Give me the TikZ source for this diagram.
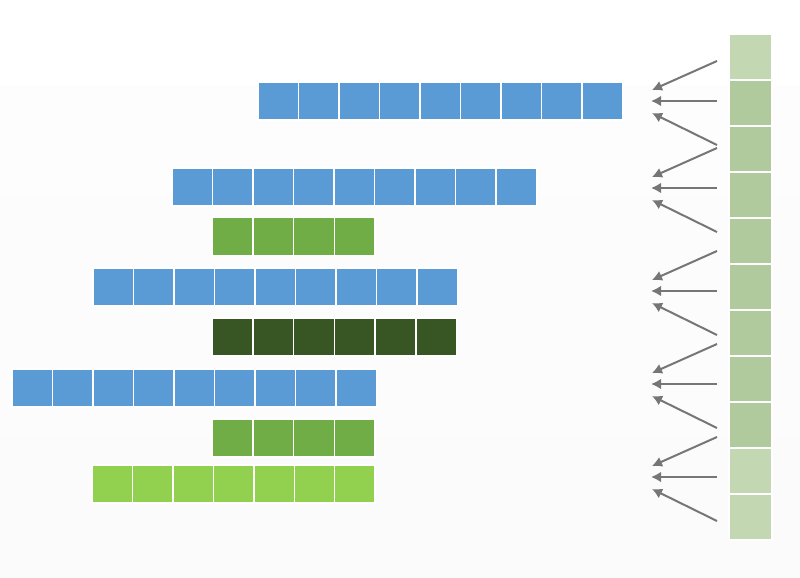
\documentclass[tikz,border=0pt]{standalone}
\usepackage{tikz}
\usetikzlibrary{arrows.meta}

\definecolor{cellblue}{HTML}{5B9BD5}
\definecolor{cellgreen}{HTML}{70AD47}
\definecolor{celldark}{HTML}{375623}
\definecolor{celllime}{HTML}{92D050}
\definecolor{colpale}{HTML}{C4D7B3}
\definecolor{colmid}{HTML}{B0CA9D}
\definecolor{arrowgray}{HTML}{767676}

\tikzset{
	cell/.style={rectangle, draw=white, line width=1.1pt, minimum width=30.4pt, minimum height=28.5pt, inner sep=0pt},
	colcell/.style={rectangle, draw=white, line width=1.1pt, minimum width=32.3pt, minimum height=34.5pt, inner sep=0pt},
	feed/.style={draw=arrowgray, line width=1.5pt, -{Latex[length=7.5pt,width=8pt]}}
}

\begin{document}
\begin{tikzpicture}[x=0.75pt, y=-0.75pt]
	% Background
	\useasboundingbox (0,0) rectangle (800,578);
	\fill[white] (0,0) rectangle (800,85);
	\shade[top color=black!0.8, bottom color=black!1.6] (0,85) rectangle (800,578);

	% Rows of cells
	%Blue
	\foreach \i in {1,...,9} \node[cell, fill=cellblue] (ra\i) at (258+\i*40.5-20.25,101) {};
	\foreach \i in {1,...,9} \node[cell, fill=cellblue] (rb\i) at (172+\i*40.5-20.25,187) {};
	%Green
	\foreach \i in {1,...,4} \node[cell, fill=cellgreen] (rc\i) at (212+\i*40.8-20.4,236.5) {};
	\foreach \i in {1,...,9} \node[cell, fill=cellblue] (rd\i) at (93+\i*40.5-20.25,287) {};
	%Dark green
	\foreach \i in {1,...,6} \node[cell, fill=celldark] (re\i) at (212+\i*40.8-20.4,337) {};
	\foreach \i in {1,...,9} \node[cell, fill=cellblue] (rf\i) at (12+\i*40.5-20.25,388) {};
	\foreach \i in {1,...,4} \node[cell, fill=cellgreen] (rg\i) at (212+\i*40.8-20.4,438) {};
	%Lime
	\foreach \i in {1,...,7} \node[cell, fill=celllime] (rh\i) at (92+\i*40.45-20.2,484) {};

	% Column on the right
	\foreach \c [count=\i] in {colpale,colmid,colmid,colmid,colmid,colmid,colmid,colmid,colmid,colpale,colpale}
		\node[colcell, fill=\c] (col\i) at (750.5,34+\i*46-23) {};

	% Arrows
	\foreach \h [count=\k] in {101,188,291,384,477}{
		\coordinate (up\k) at (717,\h-40);
		\coordinate (mid\k) at (717,\h);
		\coordinate (low\k) at (717,\h+44);
		\coordinate (upend\k) at (652,\h-11);
		\coordinate (midend\k) at (651,\h);
		\coordinate (lowend\k) at (652,\h+12);
		\draw[feed] (up\k) -- (upend\k);
		\draw[feed] (mid\k) -- (midend\k);
		\draw[feed] (low\k) -- (lowend\k);
	}
\end{tikzpicture}
\end{document}
